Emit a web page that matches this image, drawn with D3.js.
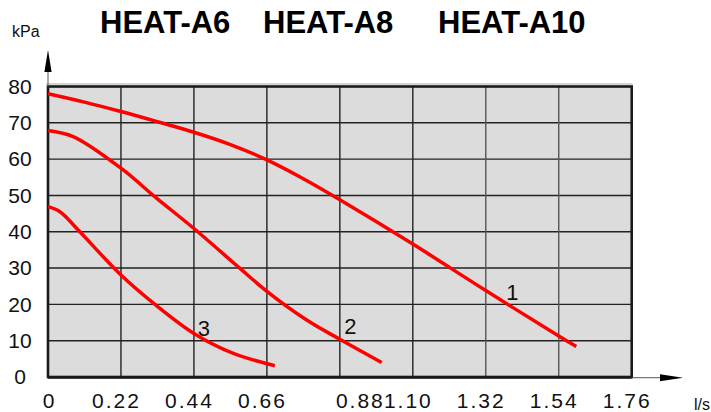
<!DOCTYPE html>
<html>
<head>
<meta charset="utf-8">
<script src="https://cdn.jsdelivr.net/npm/d3@7"></script>
<style>
  html, body { margin: 0; padding: 0; background: #fff; }
  svg { display: block; font-family: "Liberation Sans", Arial, sans-serif; }
</style>
</head>
<body>
<svg id="chart" width="711" height="412"></svg>
<script>
// Pump head curves: flow (l/s) against head (kPa)
const titles = ["HEAT-A6", "HEAT-A8", "HEAT-A10"];
const yTicks = [0, 10, 20, 30, 40, 50, 60, 70, 80];
const xTicks = [0, 0.22, 0.44, 0.66, 0.88, 1.10, 1.32, 1.54, 1.76];
const xTickLabels = ["0", "0.22", "0.44", "0.66", "0.88", "1.10", "1.32", "1.54", "1.76"];

const curve1Flow = [0, 0.11, 0.22, 0.33, 0.44, 0.55, 0.66, 0.77, 0.88, 1.10, 1.32, 1.54, 1.593];
const curve1Head = [78.0, 75.7, 73.1, 70.3, 67.4, 64.0, 59.8, 54.6, 48.8, 36.6, 23.8, 11.3, 8.4];

const curve2Flow = [0, 0.076, 0.22, 0.328, 0.44, 0.579, 0.66, 0.78, 0.88, 1.006];
const curve2Head = [67.9, 66.2, 57.5, 49.2, 40.9, 29.9, 23.6, 15.7, 10.4, 4.0];

const curve3Flow = [0, 0.036, 0.096, 0.22, 0.328, 0.44, 0.559, 0.684];
const curve3Head = [46.9, 45.5, 40.0, 28.1, 19.6, 12.0, 6.5, 3.1];

const curveNames = ["1", "2", "3"];
// where each curve number sits, in flow / head units
const curveNameFlow = [1.40, 0.912, 0.47];
const curveNameHead = [23.5, 14.0, 13.6];

const svg = d3.select("#chart");
const plotL = 48, plotR = 631.7, plotT = 86.5, plotB = 377;

const x = d3.scaleLinear().domain([0, 1.76]).range([plotL, plotR]);
const y = d3.scaleLinear().domain([0, 80]).range([plotB, plotT]);

// title
const titleX = [100, 263, 438];
svg.selectAll("text.title").data(titles).enter().append("text")
  .attr("class", "title")
  .attr("x", (d, i) => titleX[i]).attr("y", 33)
  .attr("font-size", 31).attr("font-weight", "bold").attr("fill", "#000")
  .text(d => d);

// plot background
svg.append("rect")
  .attr("x", plotL).attr("y", plotT)
  .attr("width", plotR - plotL).attr("height", plotB - plotT)
  .attr("fill", "#dcdcdc");

// grid
svg.append("g").selectAll("line").data(yTicks.slice(1, -1)).enter().append("line")
  .attr("x1", plotL).attr("x2", plotR)
  .attr("y1", d => y(d)).attr("y2", d => y(d))
  .attr("stroke", "#222").attr("stroke-width", 1.4);
svg.append("g").selectAll("line").data(xTicks.slice(1, -1)).enter().append("line")
  .attr("x1", d => x(d)).attr("x2", d => x(d))
  .attr("y1", plotT).attr("y2", plotB)
  .attr("stroke", d => d >= 1.3 ? "#555" : "#222").attr("stroke-width", 1.4);

// frame
svg.append("line").attr("x1", plotL - 2).attr("x2", plotR + 1)
  .attr("y1", plotT - 2.5).attr("y2", plotT - 2.5).attr("stroke", "#aaa").attr("stroke-width", 1);
svg.append("rect")
  .attr("x", plotL).attr("y", plotT)
  .attr("width", plotR - plotL).attr("height", plotB - plotT)
  .attr("fill", "none").attr("stroke", "#1a1a1a").attr("stroke-width", 2.6);
svg.append("line").attr("x1", plotL).attr("x2", plotR)
  .attr("y1", plotB + 1).attr("y2", plotB + 1).attr("stroke", "#1a1a1a").attr("stroke-width", 1.5);

// axis arrows
svg.append("line").attr("x1", plotL).attr("x2", plotL).attr("y1", 70).attr("y2", plotT)
  .attr("stroke", "#555").attr("stroke-width", 1);
svg.append("path").attr("d", `M${plotL},50 L${plotL + 3.6},72 L${plotL - 3.6},72 Z`).attr("fill", "#000");
svg.append("line").attr("x1", plotR).attr("x2", 662).attr("y1", plotB + 0.7).attr("y2", plotB + 0.7)
  .attr("stroke", "#555").attr("stroke-width", 1);
svg.append("path").attr("d", `M683,${plotB + 0.7} L660,${plotB - 2.8} L660,${plotB + 4.2} Z`).attr("fill", "#000");

// unit labels
svg.append("text").attr("x", 12).attr("y", 37).attr("font-size", 16).attr("fill", "#111").text("kPa");
svg.append("text").attr("x", 694).attr("y", 410).attr("font-size", 16).attr("fill", "#111").text("l/s");

// y axis labels
const yAxis = d3.axisLeft(y).tickValues(yTicks).tickSize(0).tickFormat(d3.format("d"));
const gy = svg.append("g").attr("transform", `translate(${plotL},0)`).call(yAxis);
gy.select(".domain").remove();
gy.selectAll("text")
  .attr("x", 20 - plotL).attr("text-anchor", "middle")
  .attr("font-size", 21).attr("font-family", "Liberation Sans, Arial, sans-serif").attr("fill", "#111");

// x axis labels
const labelNudge = { "0": 0, "0.88": 19 };
const xAxis = d3.axisBottom(x).tickValues(xTicks).tickSize(0)
  .tickFormat((d, i) => xTickLabels[i]);
const gx = svg.append("g").attr("transform", `translate(0,${plotB})`).call(xAxis);
gx.select(".domain").remove();
gx.selectAll("text")
  .attr("y", 16).attr("dy", "0.71em")
  .attr("dx", (d, i) => (xTickLabels[i] in labelNudge ? labelNudge[xTickLabels[i]] : -6) + 1)
  .attr("font-size", 21).attr("letter-spacing", 2)
  .attr("font-family", "Liberation Sans, Arial, sans-serif").attr("fill", "#111");

// curves
const curves = [
  d3.zip(curve1Flow, curve1Head),
  d3.zip(curve2Flow, curve2Head),
  d3.zip(curve3Flow, curve3Head)
];
const line = d3.line().x(d => x(d[0])).y(d => y(d[1])).curve(d3.curveCatmullRom.alpha(0.5));
svg.append("g").selectAll("path").data(curves).enter().append("path")
  .attr("d", line)
  .attr("fill", "none").attr("stroke", "#ff0000").attr("stroke-width", 3.5);

// curve numbers
svg.append("g").selectAll("text").data(curveNames).enter().append("text")
  .attr("x", (d, i) => x(curveNameFlow[i])).attr("y", (d, i) => y(curveNameHead[i]))
  .attr("dy", "0.36em").attr("text-anchor", "middle")
  .attr("font-size", 22).attr("fill", "#111")
  .text(d => d);
</script>
</body>
</html>
